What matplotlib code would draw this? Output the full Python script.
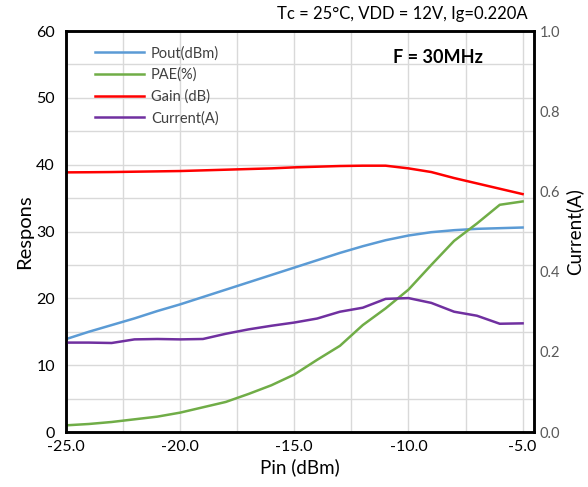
import matplotlib
matplotlib.use("Agg")
import matplotlib.pyplot as plt
import numpy as np

plt.rcParams['font.family'] = ['Lato', 'DejaVu Sans']

# Data
pin = [-25, -24, -23, -22, -21, -20, -19, -18, -17, -16, -15,
       -14, -13, -12, -11, -10, -9, -8, -7, -6, -5]
pout = [13.9, 15.0, 16.0, 17.0, 18.1, 19.1, 20.2, 21.3, 22.4, 23.5, 24.6,
        25.7, 26.8, 27.8, 28.7, 29.4, 29.9, 30.2, 30.4, 30.5, 30.6]
pae = [1.0, 1.2, 1.5, 1.9, 2.3, 2.9, 3.7, 4.5, 5.7, 7.0, 8.6,
       10.8, 12.9, 16.0, 18.5, 21.3, 25.0, 28.6, 31.2, 34.0, 34.5]
gain = [38.85, 38.87, 38.9, 38.95, 39.0, 39.05, 39.15, 39.25, 39.35, 39.45, 39.6,
        39.7, 39.8, 39.85, 39.85, 39.45, 38.9, 38.0, 37.2, 36.4, 35.6]
current = [0.223, 0.223, 0.222, 0.231, 0.232, 0.231, 0.232, 0.245, 0.256, 0.265, 0.273,
           0.283, 0.300, 0.310, 0.332, 0.334, 0.322, 0.300, 0.290, 0.270, 0.271]

fig = plt.figure(figsize=(5.88, 4.87), dpi=100)
ax = fig.add_axes([0.1122, 0.1129, 0.7960, 0.8234])

ax.plot(pin, pout, color='#5B9BD5', lw=1.8, label='Pout(dBm)')
ax.plot(pin, pae, color='#70AD47', lw=1.8, label='PAE(%)')
ax.plot(pin, gain, color='#FF0000', lw=1.8, label='Gain (dB)')
# dummy handle so the current line shows in the same legend
ax.plot([], [], color='#7030A0', lw=1.8, label='Current(A)')

ax.set_xlim(-25, -4.5)
ax.set_ylim(0, 60)
ax.set_xticks(np.arange(-25, -4.9, 5))
ax.set_xticklabels(['-25.0', '-20.0', '-15.0', '-10.0', '-5.0'])
ax.set_xticks(np.arange(-25, -4.9, 2.5), minor=True)
ax.set_yticks(np.arange(0, 61, 10))
ax.set_yticks(np.arange(0, 61, 5), minor=True)
ax.grid(True, which='both', color='#d9d9d9', lw=1)
ax.set_axisbelow(True)
ax.tick_params(which='both', length=0)
ax.tick_params(axis='y', labelsize=11.5, pad=8)
ax.tick_params(axis='x', labelsize=11.5, pad=6)

ax.set_xlabel('Pin (dBm)', fontsize=13.5, labelpad=3)
ax.set_ylabel('Respons', fontsize=14.5, labelpad=2)

ax2 = ax.twinx()
ax2.plot(pin, current, color='#7030A0', lw=1.8)
ax2.set_ylim(0, 1.0)
ax2.set_yticks(np.arange(0, 1.01, 0.2))
ax2.set_yticklabels(['0.0', '0.2', '0.4', '0.6', '0.8', '1.0'])
ax2.tick_params(length=0, labelsize=10.5, labelcolor='#595959', pad=4)
ax2.set_ylabel('Current(A)', fontsize=13.5, labelpad=4)

for a in (ax, ax2):
    for s in a.spines.values():
        s.set_color('black')
        s.set_linewidth(1.8)

ax.legend(loc='upper left', bbox_to_anchor=(0.035, 0.995), frameon=False,
          fontsize=10.5, handlelength=3.3, handletextpad=0.5,
          labelspacing=0.5, labelcolor='#404040')

ax.text(0.795, 0.933, 'F = 30MHz', transform=ax.transAxes, fontsize=13,
        fontweight='bold', ha='center', va='center')
fig.text(0.898, 0.972, 'Tc = 25\u00b0C, VDD = 12V, Ig=0.220A', fontsize=12,
         ha='right', va='center')

fig.savefig('out.png', dpi=100)
